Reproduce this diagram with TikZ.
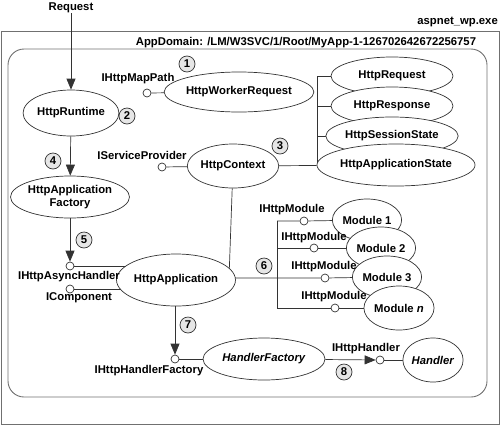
\documentclass[tikz,border=0pt]{standalone}
\usepackage{fontspec}
\setmainfont{Liberation Sans}
\usetikzlibrary{shapes.geometric,arrows.meta,backgrounds}
\definecolor{lc}{HTML}{333333}
\definecolor{boxc}{HTML}{707070}
\definecolor{numfill}{HTML}{E6E6E6}
\begin{document}
\begin{tikzpicture}[x=1pt,y=-1pt,
  every node/.style={font=\fontsize{11.3}{12.5}\selectfont\bfseries},
  ell/.style={ellipse,draw=lc,fill=white,line width=0.7pt,inner sep=0pt},
  lol/.style={circle,draw=lc,fill=white,minimum size=8pt,inner sep=0pt,line width=0.7pt},
  num/.style={circle,draw=lc,fill=numfill,minimum size=16pt,inner sep=0pt,line width=0.7pt},
  lbl/.style={inner sep=0pt},
  ln/.style={draw=lc,line width=0.7pt},
  arr/.style={ln,-{Triangle[length=11pt,width=9pt]}},
  box/.style={draw=boxc,line width=0.9pt}
]
\useasboundingbox (0,0) rectangle (500,426);
% containers
\draw[box] (1,31) rectangle (499,424);
\draw[box,rounded corners=16pt] (8,49) rectangle (487,397);
\node[lbl,anchor=east] (proc) at (498,22) {aspnet\_wp.exe};
\node[lbl] (appd) at (306,43) {AppDomain: /LM/W3SVC/1/Root/MyApp-1-126702642672256757};
\node[lbl] (req) at (71,8) {Request};

% ellipses
\node[ell,minimum width=90pt,minimum height=46pt] (rt) at (71,113) {HttpRuntime};
\node[ell,minimum width=124pt,minimum height=40pt] (hwr) at (239,92) {HttpWorkerRequest};
\node[ell,minimum width=122pt,minimum height=38pt] (hreq) at (392,76) {HttpRequest};
\node[ell,minimum width=122pt,minimum height=38pt] (hresp) at (392,106) {HttpResponse};
\node[ell,minimum width=122pt,minimum height=38pt] (hsess) at (392,136) {HttpSessionState};
\node[ell,minimum width=124pt,minimum height=42pt] (happs) at (396,165) {HttpApplicationState};
\node[ell,minimum width=90pt,minimum height=44pt] (ctx) at (233,166) {HttpContext};
\node[ell,minimum width=104pt,minimum height=42pt,align=center] (haf) at (70,197) {HttpApplication\\Factory};
\node[ell,minimum width=104pt,minimum height=52pt] (app) at (176,280) {HttpApplication};
\node[ell,minimum width=60pt,minimum height=42pt] (m1) at (367,220) {Module 1};
\node[ell,minimum width=60pt,minimum height=42pt] (m2) at (381,248) {Module 2};
\node[ell,minimum width=60pt,minimum height=42pt] (m3) at (387,277) {Module 3};
\node[ell,minimum width=60pt,minimum height=44pt] (mn) at (399,308) {Module \textit{n}};
\node[ell,minimum width=122pt,minimum height=42pt] (hf) at (264,359) {\textit{HandlerFactory}};
\node[ell,minimum width=60pt,minimum height=44pt] (hd) at (433,360) {\textit{Handler}};

% lollipops
\node[lol] (lmap) at (147,93) {};
\node[lol] (lsp) at (162,167) {};
\node[lol] (lasync) at (70,266) {};
\node[lol] (lcomp) at (70,289) {};
\node[lol] (lm1) at (304,221) {};
\node[lol] (lm2) at (314,248) {};
\node[lol] (lm3) at (325,278) {};
\node[lol] (lmn) at (335,308) {};
\node[lol] (lhf) at (175,359) {};
\node[lol] (lh) at (380,360) {};

% interface labels
\node[lbl] (tmap) at (138,79) {IHttpMapPath};
\node[lbl] (tsp) at (142,155) {IServiceProvider};
\node[lbl] (tasync) at (69,277) {IHttpAsyncHandler};
\node[lbl] (tcomp) at (79,298) {IComponent};
\node[lbl] (tm1) at (292,210) {IHttpModule};
\node[lbl] (tm2) at (314,238) {IHttpModule};
\node[lbl] (tm3) at (324,267) {IHttpModule};
\node[lbl] (tmn) at (334,297) {IHttpModule};
\node[lbl] (thf) at (149,371) {IHttpHandlerFactory};
\node[lbl] (th) at (366,349) {IHttpHandler};

% numbers
\node[num] (n1) at (187,64) {1};
\node[num] (n2) at (127,116) {2};
\node[num] (n3) at (280,146) {3};
\node[num] (n4) at (53,161) {4};
\node[num] (n5) at (84,240) {5};
\node[num] (n6) at (264,266) {6};
\node[num] (n7) at (188,325) {7};
\node[num] (n8) at (344,372) {8};

% coordinates
\coordinate (bt) at (317,76);
\coordinate (bb) at (317,165);
\coordinate (mt) at (277,221);
\coordinate (m2j) at (277,248);
\coordinate (mb) at (277,308);
\coordinate (cj) at (229,278);

\begin{scope}[on background layer]
  \draw[ln] (lmap) -- (hwr);
  \draw[ln] (lsp) -- (ctx);
  \draw[ln] (ctx) -- (happs);
  \draw[ln] (bt) -- (bb);
  \draw[ln] (bt) -- (hreq);
  \draw[ln] (bt |- hresp) -- (hresp);
  \draw[ln] (bt |- hsess) -- (hsess);
  \draw[ln] (lasync) -- (lasync -| app);
  \draw[ln] (lcomp) -- (lcomp -| app);
  \draw[ln] (ctx) -- (cj);
  \draw[ln] (cj -| app) -- (lm3) -- (m3);
  \draw[ln] (mt) -- (mb);
  \draw[ln] (mt) -- (lm1) -- (m1);
  \draw[ln] (m2j) -- (lm2) -- (m2);
  \draw[ln] (mb) -- (lmn) -- (mn);
  \draw[ln] (lhf) -- (hf);
  \draw[ln] (lh) -- (hd);
\end{scope}

% arrows
\draw[arr] (req) -- (rt);
\draw[arr] (rt) -- (haf);
\draw[arr] (haf) -- (lasync);
\draw[arr] (app.south -| lhf) -- (lhf);
\draw[arr] (hf) -- (lh);
\end{tikzpicture}
\end{document}
